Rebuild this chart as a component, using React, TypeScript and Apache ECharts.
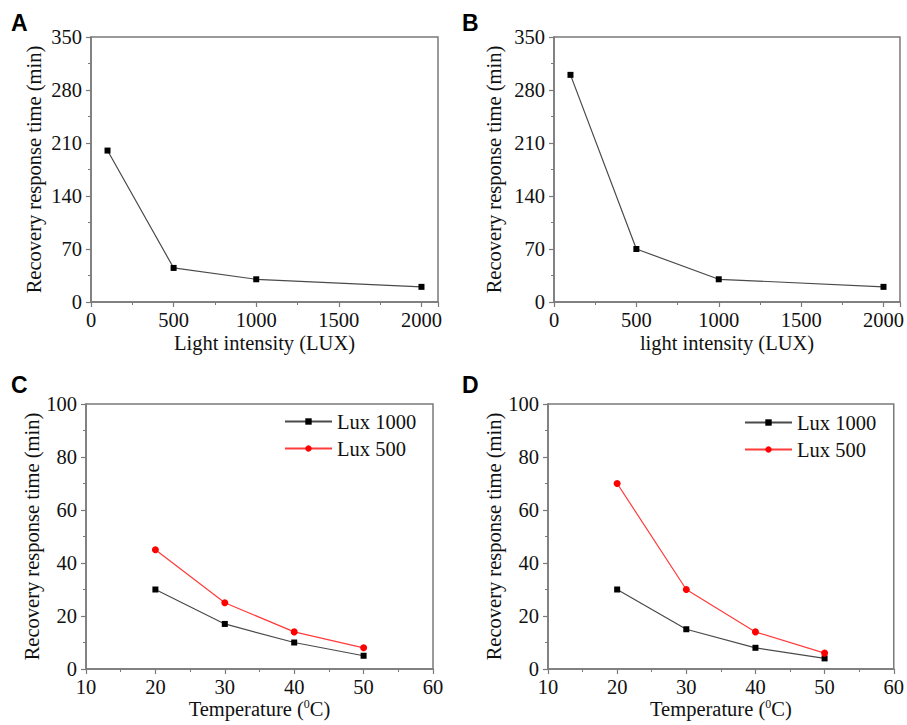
import React, { useEffect, useRef } from "react";
import * as echarts from "echarts";

// Panels A & B: light intensity (LUX) vs recovery response time (min)
const luxX = [100, 500, 1000, 2000];
const panelAY = [200, 45, 30, 20];
const panelBY = [300, 70, 30, 20];

// Panels C & D: temperature (°C) vs recovery response time (min)
const tempX = [20, 30, 40, 50];
const panelCLux1000 = [30, 17, 10, 5];
const panelCLux500 = [45, 25, 14, 8];
const panelDLux1000 = [30, 15, 8, 4];
const panelDLux500 = [70, 30, 14, 6];

const seriesNames = ["Lux 1000", "Lux 500"];
const panelLetters = ["A", "B", "C", "D"];

const FONT = "'Liberation Serif', 'Times New Roman', serif";
const AXIS_GRAY = "#7a7a7a";
const TEXT = "#111";

const pair = (xs: number[], ys: number[]) => xs.map((x, i) => [x, ys[i]]);

function xAxisCfg(idx: number, name: string, min: number, max: number, interval: number, gap: number) {
  return {
    type: "value",
    gridIndex: idx,
    min,
    max,
    interval,
    name,
    nameLocation: "middle",
    nameGap: gap,
    nameTextStyle: {
      fontFamily: FONT,
      fontSize: 20.5,
      color: TEXT,
      rich: {
        sup: { fontFamily: FONT, fontSize: 12, color: TEXT, verticalAlign: "top", padding: [0, 0, 10, 0] },
      },
    },
    axisLine: { show: true, onZero: false, lineStyle: { color: AXIS_GRAY, width: 1.5 } },
    axisTick: { show: true, inside: false, length: 5, lineStyle: { color: AXIS_GRAY, width: 1.2 } },
    minorTick: { show: true, splitNumber: 2, length: 3, lineStyle: { color: AXIS_GRAY, width: 1 } },
    splitLine: { show: false },
    axisLabel: {
      fontFamily: FONT,
      fontSize: 20.5,
      color: TEXT,
      margin: 7,
      showMaxLabel: max % interval === 0,
      formatter: (v: number) => String(v),
    },
  };
}

function yAxisCfg(idx: number, min: number, max: number, interval: number, gap: number) {
  return {
    type: "value",
    gridIndex: idx,
    min,
    max,
    interval,
    name: "Recovery response time (min)",
    nameLocation: "middle",
    nameRotate: 90,
    nameGap: gap,
    nameTextStyle: { fontFamily: FONT, fontSize: 20.5, color: TEXT },
    axisLine: { show: true, onZero: false, lineStyle: { color: AXIS_GRAY, width: 1.5 } },
    axisTick: { show: true, inside: false, length: 5, lineStyle: { color: AXIS_GRAY, width: 1.2 } },
    minorTick: { show: true, splitNumber: 2, length: 3, lineStyle: { color: AXIS_GRAY, width: 1 } },
    splitLine: { show: false },
    axisLabel: { fontFamily: FONT, fontSize: 20.5, color: TEXT, margin: 9, formatter: (v: number) => String(v) },
  };
}

const blackSeries = (name: string, idx: number, data: number[][]) => ({
  type: "line",
  name,
  xAxisIndex: idx,
  yAxisIndex: idx,
  data,
  symbol: "rect",
  symbolSize: 6,
  itemStyle: { color: "#000" },
  lineStyle: { color: "#4a4a4a", width: 1.2 },
});

const redSeries = (name: string, idx: number, data: number[][]) => ({
  type: "line",
  name,
  xAxisIndex: idx,
  yAxisIndex: idx,
  data,
  symbol: "circle",
  symbolSize: 7,
  itemStyle: { color: "#ff0000" },
  lineStyle: { color: "#ff3b3b", width: 1.2 },
});

export default function App() {
  const ref = useRef<HTMLDivElement>(null);

  useEffect(() => {
    if (!ref.current) return;
    const chart = echarts.init(ref.current, null, { renderer: "svg" });

    const gridBase = { show: true, borderColor: AXIS_GRAY, borderWidth: 1.5, backgroundColor: "transparent", containLabel: false };
    const grids = [
      { ...gridBase, left: 91, top: 37, width: 347, height: 265 },
      { ...gridBase, left: 554, top: 37, width: 348, height: 265 },
      { ...gridBase, left: 86, top: 404, width: 347, height: 265 },
      { ...gridBase, left: 548, top: 404, width: 347, height: 265 },
    ];

    const legendBase = {
      orient: "vertical",
      padding: 0,
      itemWidth: 47,
      itemHeight: 8,
      itemGap: 6,
      textStyle: { fontFamily: FONT, fontSize: 20.5, color: TEXT, lineHeight: 20 },
      data: seriesNames,
      selectedMode: false,
    };

    const option = {
      animation: false,
      backgroundColor: "#fff",
      grid: grids,
      xAxis: [
        xAxisCfg(0, "Light intensity (LUX)", 0, 2100, 500, 30),
        xAxisCfg(1, "light intensity (LUX)", 0, 2100, 500, 30),
        xAxisCfg(2, "Temperature ({sup|0}C)", 10, 60, 10, 29),
        xAxisCfg(3, "Temperature ({sup|0}C)", 10, 60, 10, 29),
      ],
      yAxis: [
        yAxisCfg(0, 0, 350, 70, 47),
        yAxisCfg(1, 0, 350, 70, 50),
        yAxisCfg(2, 0, 100, 20, 44),
        yAxisCfg(3, 0, 100, 20, 41),
      ],
      legend: [
        { ...legendBase, left: 284, top: 411 },
        { ...legendBase, left: 744, top: 412 },
      ],
      graphic: [
        { type: "text", left: 11, top: 11, style: { text: panelLetters[0], fontFamily: "Liberation Sans", fontWeight: "bold", fontSize: 23, fill: "#000" } },
        { type: "text", left: 462, top: 11, style: { text: panelLetters[1], fontFamily: "Liberation Sans", fontWeight: "bold", fontSize: 23, fill: "#000" } },
        { type: "text", left: 11, top: 373, style: { text: panelLetters[2], fontFamily: "Liberation Sans", fontWeight: "bold", fontSize: 23, fill: "#000" } },
        { type: "text", left: 462, top: 373, style: { text: panelLetters[3], fontFamily: "Liberation Sans", fontWeight: "bold", fontSize: 23, fill: "#000" } },
      ],
      series: [
        { ...blackSeries("A", 0, pair(luxX, panelAY)) },
        { ...blackSeries("B", 1, pair(luxX, panelBY)) },
        blackSeries(seriesNames[0], 2, pair(tempX, panelCLux1000)),
        redSeries(seriesNames[1], 2, pair(tempX, panelCLux500)),
        blackSeries(seriesNames[0], 3, pair(tempX, panelDLux1000)),
        redSeries(seriesNames[1], 3, pair(tempX, panelDLux500)),
      ],
    };

    chart.setOption(option as any);
    return () => chart.dispose();
  }, []);

  return (
    <div
      ref={ref}
      style={{ position: "fixed", left: 0, top: 0, width: 907, height: 725, background: "#fff" }}
    />
  );
}
